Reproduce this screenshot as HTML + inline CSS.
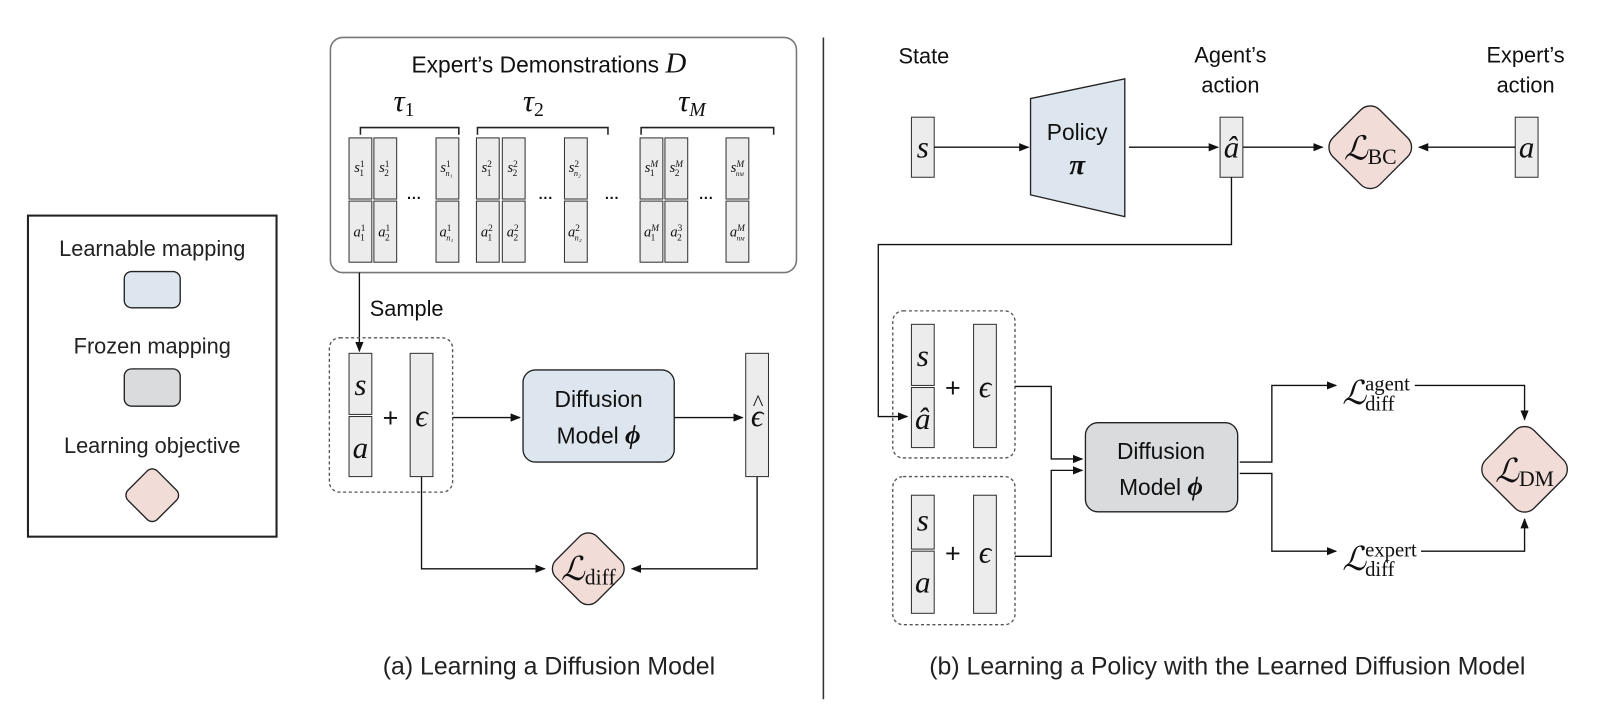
<!DOCTYPE html>
<html><head><meta charset="utf-8"><style>html,body{margin:0;padding:0;background:#fff}svg{display:block}</style></head>
<body>
<svg width="1624" height="716" viewBox="0 0 1568 691" xmlns="http://www.w3.org/2000/svg" font-family="Liberation Sans, sans-serif">
<defs>
<marker id="ar" markerWidth="10" markerHeight="8" refX="9" refY="4" orient="auto" markerUnits="userSpaceOnUse"><path d="M0,0 L10,4 L0,8 z" fill="#111"/></marker>
</defs>
<g stroke="#222" stroke-width="1.3" fill="none">
<rect x="27" y="208" width="240" height="310" stroke-width="2"/>
</g>
<g font-size="21" fill="#222" text-anchor="middle">
<text x="147" y="247">Learnable mapping</text>
<text x="147" y="341">Frozen mapping</text>
<text x="147" y="437">Learning objective</text>
</g>
<rect x="120" y="262" width="54" height="35" rx="7" fill="#dde6ee" stroke="#222" stroke-width="1.3"/>
<rect x="120" y="356" width="54" height="36" rx="7" fill="#dadbdc" stroke="#222" stroke-width="1.3"/>
<rect x="127" y="458" width="40" height="40" rx="7" fill="#f2dcd8" stroke="#222" stroke-width="1.3" transform="rotate(45 147 478)"/>

<rect x="319" y="36" width="450" height="227" rx="12" fill="none" stroke="#777" stroke-width="1.5"/>
<text x="530" y="70" font-size="22" text-anchor="middle" fill="#111">Expert’s Demonstrations <tspan font-family="Liberation Serif, serif" font-style="italic" font-size="28">D</tspan></text>
<g font-family="Liberation Serif, serif" font-style="italic" font-size="30" fill="#111" text-anchor="middle">
<text x="390" y="107">τ<tspan font-style="normal" font-size="19" dy="5">1</tspan></text>
<text x="515" y="107">τ<tspan font-style="normal" font-size="19" dy="5">2</tspan></text>
<text x="668" y="107">τ<tspan font-size="19" dy="5">M</tspan></text>
</g>
<g stroke="#222" stroke-width="1.5" fill="none">
<path d="M348,130 V123 H443 V130"/>
<path d="M461,130 V123 H587 V130"/>
<path d="M619,130 V123 H747 V130"/>
</g>
<g fill="#ececec" stroke="#333" stroke-width="1">
<rect x="337" y="133" width="22" height="59"/><rect x="337" y="194" width="22" height="59"/>
<rect x="361" y="133" width="22" height="59"/><rect x="361" y="194" width="22" height="59"/>
<rect x="421" y="133" width="22" height="59"/><rect x="421" y="194" width="22" height="59"/>
<rect x="460" y="133" width="22" height="59"/><rect x="460" y="194" width="22" height="59"/>
<rect x="485" y="133" width="22" height="59"/><rect x="485" y="194" width="22" height="59"/>
<rect x="545" y="133" width="22" height="59"/><rect x="545" y="194" width="22" height="59"/>
<rect x="618" y="133" width="22" height="59"/><rect x="618" y="194" width="22" height="59"/>
<rect x="642" y="133" width="22" height="59"/><rect x="642" y="194" width="22" height="59"/>
<rect x="701" y="133" width="22" height="59"/><rect x="701" y="194" width="22" height="59"/>
</g>
<g font-family="Liberation Serif, serif" font-style="italic" font-size="14" fill="#111" text-anchor="middle">
<text x="347" y="166">s<tspan font-size="9" dy="-5" font-style="normal">1</tspan><tspan font-size="9" dx="-5" dy="9" font-style="normal">1</tspan></text>
<text x="371" y="166">s<tspan font-size="9" dy="-5" font-style="normal">1</tspan><tspan font-size="9" dx="-5" dy="9" font-style="normal">2</tspan></text>
<text x="431" y="166">s<tspan font-size="9" dy="-5" font-style="normal">1</tspan><tspan font-size="8" dx="-5" dy="9">n₁</tspan></text>
<text x="470" y="166">s<tspan font-size="9" dy="-5" font-style="normal">2</tspan><tspan font-size="9" dx="-5" dy="9" font-style="normal">1</tspan></text>
<text x="495" y="166">s<tspan font-size="9" dy="-5" font-style="normal">2</tspan><tspan font-size="9" dx="-5" dy="9" font-style="normal">2</tspan></text>
<text x="555" y="166">s<tspan font-size="9" dy="-5" font-style="normal">2</tspan><tspan font-size="8" dx="-5" dy="9">n₂</tspan></text>
<text x="629" y="166">s<tspan font-size="9" dy="-5">M</tspan><tspan font-size="9" dx="-8" dy="9" font-style="normal">1</tspan></text>
<text x="653" y="166">s<tspan font-size="9" dy="-5">M</tspan><tspan font-size="9" dx="-8" dy="9" font-style="normal">2</tspan></text>
<text x="712" y="166">s<tspan font-size="9" dy="-5">M</tspan><tspan font-size="7" dx="-8" dy="9">n<tspan font-size="5">M</tspan></tspan></text>
<text x="347" y="228">a<tspan font-size="9" dy="-5" font-style="normal">1</tspan><tspan font-size="9" dx="-5" dy="9" font-style="normal">1</tspan></text>
<text x="371" y="228">a<tspan font-size="9" dy="-5" font-style="normal">1</tspan><tspan font-size="9" dx="-5" dy="9" font-style="normal">2</tspan></text>
<text x="431" y="228">a<tspan font-size="9" dy="-5" font-style="normal">1</tspan><tspan font-size="8" dx="-5" dy="9">n₁</tspan></text>
<text x="470" y="228">a<tspan font-size="9" dy="-5" font-style="normal">2</tspan><tspan font-size="9" dx="-5" dy="9" font-style="normal">1</tspan></text>
<text x="495" y="228">a<tspan font-size="9" dy="-5" font-style="normal">2</tspan><tspan font-size="9" dx="-5" dy="9" font-style="normal">2</tspan></text>
<text x="555" y="228">a<tspan font-size="9" dy="-5" font-style="normal">2</tspan><tspan font-size="8" dx="-5" dy="9">n₂</tspan></text>
<text x="629" y="228">a<tspan font-size="9" dy="-5">M</tspan><tspan font-size="9" dx="-8" dy="9" font-style="normal">1</tspan></text>
<text x="653" y="228">a<tspan font-size="9" dy="-5" font-style="normal">3</tspan><tspan font-size="9" dx="-5" dy="9" font-style="normal">2</tspan></text>
<text x="712" y="228">a<tspan font-size="9" dy="-5">M</tspan><tspan font-size="7" dx="-8" dy="9">n<tspan font-size="5">M</tspan></tspan></text>
</g>
<g font-size="14" fill="#111" text-anchor="middle" font-weight="bold">
<text x="400" y="196">···</text><text x="527" y="196">···</text><text x="591" y="196">···</text><text x="682" y="196">···</text>
</g>

<g stroke="#111" stroke-width="1.3" fill="none">
<path d="M347,263 V339" marker-end="url(#ar)"/>
<rect x="318" y="326" width="119" height="149" rx="10" stroke="#555" stroke-dasharray="3,2.5"/>
<path d="M437,403 H502" marker-end="url(#ar)"/>
<path d="M651,403 H717" marker-end="url(#ar)"/>
<path d="M407,460 V549 H526" marker-end="url(#ar)"/>
<path d="M731,460 V549 H610" marker-end="url(#ar)"/>
</g>
<text x="357" y="305" font-size="21" fill="#111">Sample</text>
<g fill="#ececec" stroke="#333" stroke-width="1">
<rect x="337" y="341" width="22" height="59"/><rect x="337" y="402" width="22" height="58"/>
<rect x="396" y="341" width="22" height="119"/>
<rect x="720" y="341" width="22" height="119"/>
</g>
<g font-family="Liberation Serif, serif" font-style="italic" font-size="30" fill="#111" text-anchor="middle">
<text x="348" y="381">s</text><text x="348" y="442">a</text><text x="407" y="411">ϵ</text><text x="731" y="411">ϵ</text>
</g>
<text x="732" y="396" font-family="Liberation Serif, serif" font-size="22" text-anchor="middle" fill="#111">^</text>
<text x="377" y="412" font-size="26" text-anchor="middle" fill="#111">+</text>
<rect x="505" y="357" width="146" height="89" rx="12" fill="#dde6ee" stroke="#222" stroke-width="1.3"/>
<text x="578" y="393" font-size="22" text-anchor="middle" fill="#111">Diffusion</text>
<text x="578" y="428" font-size="22" text-anchor="middle" fill="#111">Model <tspan font-family="Liberation Serif, serif" font-style="italic" font-weight="bold" font-size="26">ϕ</tspan></text>
<rect x="540" y="521" width="56" height="56" rx="12" fill="#f2dcd8" stroke="#222" stroke-width="1.3" transform="rotate(45 568 549)"/>
<text x="568" y="560" font-family="Liberation Serif, serif" font-size="32" text-anchor="middle" fill="#111"><tspan font-style="italic">ℒ</tspan><tspan font-size="21" dy="4">diff</tspan></text>
<text x="530" y="651" font-size="24" text-anchor="middle" fill="#222">(a) Learning a Diffusion Model</text>

<line x1="795" y1="36" x2="795" y2="675" stroke="#333" stroke-width="1.5"/>

<g font-size="21" fill="#111" text-anchor="middle">
<text x="892" y="61">State</text>
<text x="1188" y="60">Agent’s</text><text x="1188" y="89">action</text>
<text x="1473" y="60">Expert’s</text><text x="1473" y="89">action</text>
</g>
<polygon points="995,95 1086,76 1086,209 995,188" fill="#dde6ee" stroke="#222" stroke-width="1.3"/>
<text x="1040" y="135" font-size="22" text-anchor="middle" fill="#111">Policy</text>
<text x="1040" y="168" font-size="28" font-family="Liberation Serif, serif" font-style="italic" font-weight="bold" text-anchor="middle" fill="#111">π</text>
<g fill="#ececec" stroke="#333" stroke-width="1">
<rect x="880" y="113" width="22" height="58"/><rect x="1178" y="113" width="22" height="58"/><rect x="1463" y="113" width="22" height="58"/>
</g>
<g font-family="Liberation Serif, serif" font-style="italic" font-size="30" fill="#111" text-anchor="middle">
<text x="891" y="152">s</text><text x="1189" y="152">â</text><text x="1474" y="152">a</text>
</g>
<g stroke="#111" stroke-width="1.3" fill="none">
<path d="M902,142 H993" marker-end="url(#ar)"/>
<path d="M1090,142 H1176" marker-end="url(#ar)"/>
<path d="M1200,142 H1277" marker-end="url(#ar)"/>
<path d="M1463,142 H1370" marker-end="url(#ar)"/>
<path d="M1189,171 V236 H848 V402 H876" marker-end="url(#ar)"/>
</g>
<rect x="1291" y="110" width="64" height="64" rx="13" fill="#f2dcd8" stroke="#222" stroke-width="1.3" transform="rotate(45 1323 142)"/>
<text x="1323" y="154" font-family="Liberation Serif, serif" font-size="32" text-anchor="middle" fill="#111"><tspan font-style="italic">ℒ</tspan><tspan font-size="21" dy="4">BC</tspan></text>

<g stroke="#555" stroke-width="1.3" fill="none" stroke-dasharray="3,2.5">
<rect x="862" y="300" width="118" height="142" rx="10"/>
<rect x="862" y="460" width="118" height="143" rx="10"/>
</g>
<g fill="#ececec" stroke="#333" stroke-width="1">
<rect x="880" y="313" width="22" height="59"/><rect x="880" y="374" width="22" height="58"/>
<rect x="940" y="313" width="22" height="119"/>
<rect x="880" y="478" width="22" height="52"/><rect x="880" y="532" width="22" height="60"/>
<rect x="940" y="478" width="22" height="114"/>
</g>
<g font-family="Liberation Serif, serif" font-style="italic" font-size="30" fill="#111" text-anchor="middle">
<text x="891" y="353">s</text><text x="891" y="414">â</text><text x="951" y="383">ϵ</text>
<text x="891" y="512">s</text><text x="891" y="572">a</text><text x="951" y="543">ϵ</text>
</g>
<text x="920" y="383" font-size="26" text-anchor="middle" fill="#111">+</text>
<text x="920" y="543" font-size="26" text-anchor="middle" fill="#111">+</text>
<g stroke="#111" stroke-width="1.3" fill="none">
<path d="M980,373 H1015 V443 H1045" marker-end="url(#ar)"/>
<path d="M980,537 H1015 V454 H1045" marker-end="url(#ar)"/>
<path d="M1197,446 H1228 V372 H1290" marker-end="url(#ar)"/>
<path d="M1197,457 H1228 V532 H1290" marker-end="url(#ar)"/>
<path d="M1366,372 H1472 V405" marker-end="url(#ar)"/>
<path d="M1372,532 H1472 V501" marker-end="url(#ar)"/>
</g>
<rect x="1048" y="408" width="147" height="86" rx="12" fill="#dadbdc" stroke="#222" stroke-width="1.3"/>
<text x="1121" y="443" font-size="22" text-anchor="middle" fill="#111">Diffusion</text>
<text x="1121" y="478" font-size="22" text-anchor="middle" fill="#111">Model <tspan font-family="Liberation Serif, serif" font-style="italic" font-weight="bold" font-size="26">ϕ</tspan></text>
<g font-family="Liberation Serif, serif" fill="#111">
<text x="1296" y="390" font-size="32" font-style="italic">ℒ</text>
<text x="1318" y="377" font-size="20">agent</text><text x="1318" y="396" font-size="20">diff</text>
<text x="1296" y="550" font-size="32" font-style="italic">ℒ</text>
<text x="1318" y="537" font-size="20">expert</text><text x="1318" y="556" font-size="20">diff</text>
</g>
<rect x="1439" y="420" width="66" height="66" rx="13" fill="#f2dcd8" stroke="#222" stroke-width="1.3" transform="rotate(45 1472 453)"/>
<text x="1472" y="465" font-family="Liberation Serif, serif" font-size="32" text-anchor="middle" fill="#111"><tspan font-style="italic">ℒ</tspan><tspan font-size="21" dy="4">DM</tspan></text>
<text x="1185" y="651" font-size="24" text-anchor="middle" fill="#222">(b) Learning a Policy with the Learned Diffusion Model</text>
</svg>
</body></html>
